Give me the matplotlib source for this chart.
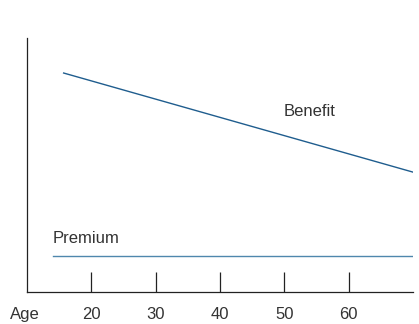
import matplotlib.pyplot as plt

# age axis ticks
ages = [20, 30, 40, 50, 60]

# curves (age, relative level)
benefit_age = [15.7, 70]
benefit_val = [86.2, 47.2]
premium_age = [14.1, 70]
premium_val = [14.2, 14.2]

plt.rcParams['font.family'] = ['Liberation Sans', 'DejaVu Sans']

fig = plt.figure(figsize=(4.19, 3.24), dpi=100)
ax = fig.add_axes([0.0644, 0.0988, 0.921, 0.784])

ax.plot(benefit_age, benefit_val, color='#1f5d8e', lw=1.0)
ax.plot(premium_age, premium_val, color='#4f87ad', lw=1.0)

ax.set_xlim(10, 70)
ax.set_ylim(0, 100)
ax.set_xticks(ages)
ax.set_yticks([])
ax.tick_params(axis='x', direction='in', length=14.5, width=0.9, color='#222222',
               labelsize=12, labelcolor='#333333', pad=11)
for s in ['top', 'right']:
    ax.spines[s].set_visible(False)
for s in ['left', 'bottom']:
    ax.spines[s].set_linewidth(0.9)
    ax.spines[s].set_color('#222222')

ax.text(53.9, 70.9, 'Benefit', fontsize=12, color='#333333', ha='center', va='center')
ax.text(14.0, 21.0, 'Premium', fontsize=12, color='#333333', ha='left', va='center')
ax.text(-0.045, -0.087, 'Age', transform=ax.transAxes, fontsize=12,
        color='#333333', ha='left', va='center')

fig.savefig('out.png', dpi=100)
